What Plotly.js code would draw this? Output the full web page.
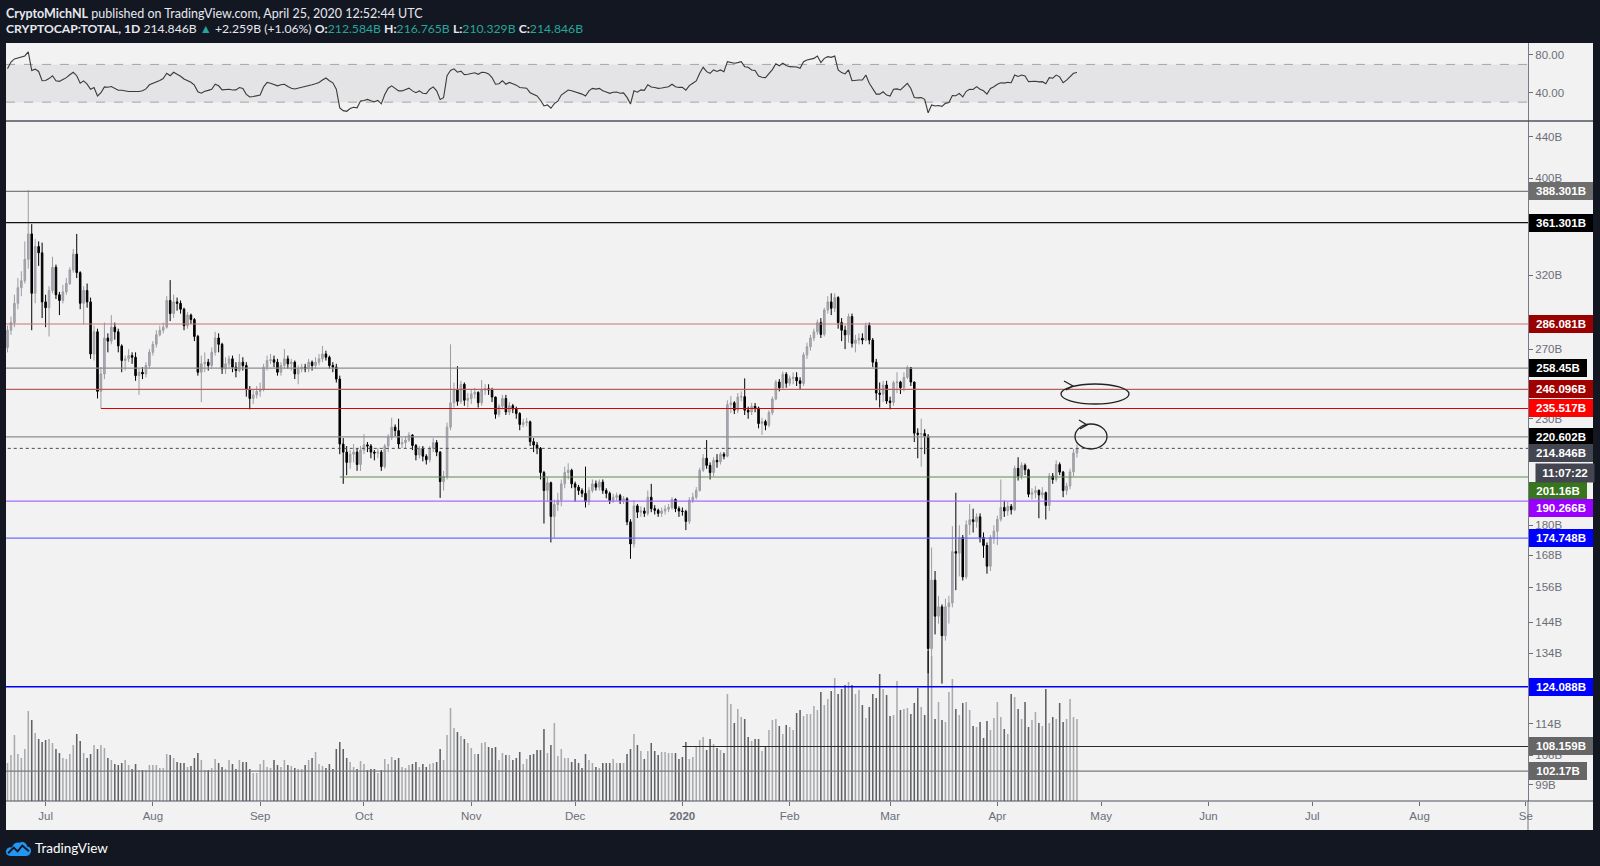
<!DOCTYPE html>
<html>
<head>
<meta charset="utf-8">
<script src="https://cdn.plot.ly/plotly-3.0.1.min.js"></script>
<style>
html,body{margin:0;padding:0;background:#131722;width:1600px;height:866px;overflow:hidden;}
#chart{position:absolute;left:0;top:0;width:1600px;height:866px;}
#hdr{position:absolute;left:6px;top:6px;color:#e6e8ee;font-family:'Lato','Liberation Sans',Arial,sans-serif;font-size:12.5px;line-height:15px;white-space:nowrap;z-index:5;}
#hdr .l2{font-size:12.2px;}
#hdr .t{color:#26a69a;}
#hdr b{font-weight:700;}
#logo{position:absolute;left:5px;top:838px;height:20px;z-index:5;display:flex;align-items:center;}
#logo span{color:#ffffff;font-family:'Lato','Liberation Sans',Arial,sans-serif;font-size:13.5px;margin-left:3px;}
</style>
</head>
<body>
<div id="chart"></div>
<div id="hdr">
<div><b>CryptoMichNL</b> published on TradingView.com, April 25, 2020 12:52:44 UTC</div>
<div class="l2"><b>CRYPTOCAP:TOTAL, 1D</b> 214.846B <span class="t">&#9650;</span> +2.259B (+1.06%) <b>O:</b><span class="t">212.584B</span> <b>H:</b><span class="t">216.765B</span> <b>L:</b><span class="t">210.329B</span> <b>C:</b><span class="t">214.846B</span></div>
</div>
<div id="logo">
<svg width="27" height="18" viewBox="0 0 28 19"><path d="M6 18 C2 18 0 15 1 12 C2 9 5 8 7 9 C8 5 12 3 15 4 C18 2 23 4 23 8 C26 8 28 11 27 14 C26 17 24 18 22 18 Z" fill="#2196f3"/><path d="M3 15 L9 9 L13 13 L18 7 L25 13" stroke="#131722" stroke-width="2" fill="none"/></svg>
<span>TradingView</span>
</div>
<script>
// ---------------- DATA (daily, 2019-06-20 .. 2020-04-24) ----------------
const firstDate = '2019-06-20';
const firstOpen = 271;

const closePrice = [
 282,287,300,311,316,332,352,307,342,337,301,
 297,309,326,306,302,308,314,324,336,322,300,309,301,267,281,245,255,277,275,284,281,272,263,264,266,265,254,256,255,260,268,
 273,279,282,284,302,293,301,300,296,285,292,289,278,256,261,262,260,268,277,273,258,261,264,259,257,262,260,246,241,243,245,
 246,259,263,263.5,262,256,260,264,261,262,255,258,259,258,262,260,262,264,267,265,260,259,252,217,213,208,212,213,207,214,
 216.6,216,213,212.5,213,206,216,220.4,225.6,223.8,217,217.7,219,221.5,216.3,211.6,214.9,211,209.3,214.9,217.7,213,199,201.4,225.6,238.6,245.7,239.4,249,240,241,
 243.5,244.4,238.6,245.7,246.5,245.7,241.8,232.4,236.7,241,233.6,237,235.2,232.8,227,228,228.4,218.2,216.5,214.9,203.2,195,198.5,183.7,188.8,190.7,198,203.2,204.3,198,
 196.5,195,193.7,190,195,198,196.5,198.8,195,193.7,190.5,192,192.7,190.5,191.3,181.4,172.4,188.2,185.5,186,185,192,187,186.3,185,186,186.8,187.5,191,187,186,
 185.8,181.6,190.7,192,195,204.3,210,206.6,203.2,209,208.3,212,211,237.6,238.6,234.6,241.8,242,234.6,233.6,236.7,235.7,227.5,228.5,226.6,233.3,240.7,250.3,247,254.8,249.6,
 252.4,253,251,249.5,266.4,271.5,277,281,287,279.3,295.4,301,296.6,304,287,282,279,291,273.6,275.7,276.8,275.7,285,275.7,262,244,243.3,248.6,239.6,
 238.8,249.9,250.3,247,253,258.8,250.3,222.5,221.8,222.3,220.9,135.5,158.6,146,149.2,139.6,149.2,150.5,169.4,168.8,175,159.8,180.2,182.3,181.5,183.5,175,171.8,163.8,175,177.5,
 182.5,187.5,186,188,186.5,205.2,201.6,206.6,204.5,193.3,194,195,193,194,188.4,201.6,200,207,203.4,195,197,203.5,212.584,214.846
];

const highPrice = [
 285,291,306,318,323,346,389.5,360,348,346,345,
 306,312,334,328,308,313,318,326,340,352,323,312,314,304,285,283,259,287,280,292,287,283,273,266,270,268,268,258,259,262,270,
 275,282,285,287,305,316.5,306,304,302,297,294,293,290,279,266,268,264,271,281,280,274,265,266,266,262,267,265,262,248,246,248,
 250,261,266,267,266,264,262,270,266,264,263,260,261,261,264,263,265,267,272,269,266,262,261,254,220,216,214,217,215,216,
 222,218,217,214,215,214,217,222,230.5,227,230,220,221,223,222,217,216,216,212,216,220,219,213.5,204,228,273,250,259.6,251,250,244,
 246,247,245,251.4,249,249,247,242,238,243,243,239,238,236.5,233.5,230,230.5,229,220,218,215.5,204,201,199,191,194,200,206,207.6,205,
 199,197.5,196,206,196.5,200,199.5,200,200,196,194.5,193.5,194,193.5,192.5,192,182.5,190.7,189,188,187.5,195,198,188.5,187,187.5,188.5,189,192,191.5,188,
 187.5,186.5,192,194,196.5,205.5,212,219,208,210.5,212,213,213,240,242.4,239.5,244,245,252.4,236.5,238.5,238.5,236.5,230.5,229.5,234.5,242,251.5,252,256.5,256,
 254,256,256,253,268,274,279,283,289,290,297,305,307,307,305,290,285,293,293,279,280,280,287,287,277,264,250,251,251,
 242,251,256,251,256,260,259,250.5,225,230,224.5,222,171,162,153,150,152,153,179.6,194,180,176,182,189,187,185,185,177,173,176,180,
 184,200,190.5,190,189,206.5,210.5,208,207.5,205,196,197,195.5,196.5,194.5,203,203,209,208,204,198.5,205,214.5,216.765
];

const lowPrice = [
 268,279,284,296,305,314,325,282,300,327,290,
 284,278,307,303,292,300,306,313,322,318,296,286,297,264,263,241,235.5,252,268,273,276,268,256,257,262,261,251,243,252,253,258,
 266,271,278,280,283,288,290,295,293,282,283,286,275,254,239,256,257,258,266,268,255,255,258,256,253,256,257,242,235,238,241,
 242,245,257,261,259,254,254,258,258,257,252,249,256,256,256,257,258,260,262,263,258,256,250,212,198,202,205,208,204,204,
 212,213,210,209,210,204,205,213,219,221,215,215,215,218,214,209,210,208.5,207,208,213,211,191.7,195,200,224,236,237,238,237,236,
 238,241,236,237,243,243,239,230,231,235,232,232,233,230,224,225.5,226,216,213,212,200,180.7,190,173,175,186,188,196,200,196,
 190,193,192,187.5,188.5,194,195,195,193.5,191.5,189,189.5,190.5,189,189,180,166.6,171,183,183.5,183.5,184,185.5,184.5,183.5,183.5,184.5,185.5,186.5,185.5,183.5,
 184,178,180.5,189.5,191,194.5,203.5,205,200,201.5,205.5,207,209.5,210.5,233,232.5,233,239.5,232,230,232,233.5,225,221.6,224,225.5,232,240,245,246,247,
 248,249,248,246,248,264,269,275,279,277,278,293,292,294,283,275,270,274,271,268,273,273,275,273,259,240,236,239,238,
 235,237,244,243.5,245,252,248,218,210,206,212,128,124.088,140,143.5,125,138,143.5,149,155,160,158.5,159,176,177,179,173,167,161,162,172.5,
 172,181.5,183.5,184,184.5,186,199.5,200,202,192,191,191.5,182.9,191.5,182.4,186,198,199,202,192,193,195.5,201.5,210.329
];

const volumeB = [
 38,46,66,47,43,52,90,81,68,62,59,
 61,62,58,52,48,43,42,47,56,67,60,48,43,47,56,52,56,53,43,41,37,36,38,41,36,32,37,31,31,31,36,
 36,36,33,33,47,46,43,39,38,38,34,35,43,48,41,31,31,33,42,38,34,32,41,37,32,41,39,39,32,28,28,
 37,41,34,33,41,36,34,41,36,35,33,32,32,36,41,43,49,37,35,33,37,32,52,59,52,43,39,34,32,40,
 37,31,32,32,28,31,42,37,44,41,43,34,33,36,37,39,34,37,34,37,38,39,52,41,66,93,73,69,65,62,58,
 53,47,47,58,59,54,53,54,41,48,46,46,41,43,49,37,42,46,47,51,51,72,48,56,78,45,52,43,43,39,
 42,38,33,47,41,38,34,33,38,38,38,42,38,38,38,47,52,67,56,50,42,50,58,50,46,49,49,48,48,48,42,
 44,59,42,44,54,61,64,51,62,57,53,51,48,107,97,78,92,84,82,64,60,62,62,50,55,71,81,82,75,67,76,
 74,71,88,91,85,87,87,95,91,109,96,102,110,123,107,112,116,119,116,107,111,96,83,94,107,103,127,112,106,
 85,86,120,91,92,93,87,98,113,94,86,150,145,82,99,81,79,109,122,92,86,98,99,91,75,74,79,63,80,71,83,
 99,84,72,67,107,104,92,82,99,74,81,89,78,75,112,78,84,82,98,79,82,102,84,82
];

const rsi14 = [
 65.5,72.5,75.8,77,77.6,79,83.3,63.5,65,62.5,52.7,
 53,55,58,52.7,52,54,56,59,61.7,58,50,52.5,49,43.7,45.5,36.5,40,46.2,45.8,46.5,44.8,42.6,42.6,41.8,41.2,41.2,41,41.2,42,44,48.4,
 49.7,50.9,53,55,60.6,58,61.7,59.5,57.5,54.5,53,51,48,41,39.5,41.5,42.5,43.7,49,47.3,43,43.3,43.7,42.8,43,45.5,44.5,38.3,35.4,36,36.5,
 37.5,46.2,50.9,50,49,47.3,48.5,49,46.5,44.8,44,44.8,45.5,46.2,47.5,48.4,49.5,50.9,53.4,55.6,52.7,50.5,43.7,23.9,21,20.3,23.2,24.6,24,31.1,
 31.8,32.9,31.5,30.5,31.8,28.2,38,44.8,47.3,44.5,41.9,41.9,43.5,44.8,41.9,40,41.9,39.5,39,43.7,46.2,42,32.9,34.7,58,63.5,65.3,61.7,62.8,59.2,59.5,
 60.6,61.2,59.5,61.7,61.5,59.9,56,49,49.5,52.7,49,50.9,49.5,48,45.5,45.2,44.8,40,38,36.5,32,26,27,23.5,28.5,31,37.5,40,42.8,42,
 41,39.7,38.5,36.5,42,44.6,43.8,44.6,42,40.8,39.3,40.5,40.8,39.5,39.8,35,28,42,40.5,43,42.5,48.5,46,45.5,44.6,45,45.5,46.3,49,46.3,45.6,
 45.6,42.7,47.5,50,52.5,60.6,66.9,62.3,60.6,64.1,62.5,64.1,62.3,72.9,72,71.2,71.9,72.9,67.6,66.9,64.1,63.5,57.7,56.3,56,60.3,64.5,70.6,68.5,71.2,68.8,
 67.6,67.6,67.2,65.8,72.9,74.6,75.5,76.4,78.9,71.9,76.4,78.2,77.5,78.9,64.1,61.3,59.9,64.1,52.7,53.4,53.4,53.4,58.7,50,44,38.5,38.5,41,37.5,
 36.5,43.6,44,42.9,46.4,49.9,44.5,35,34.5,34.8,33,18.7,27,25.9,26.5,25.5,28.7,29.5,37,36.8,39.3,35.5,41.5,43.6,43.4,46.4,43.6,42,38.5,44.5,46.4,
 49,50.6,50.2,51,50.6,58.7,57.2,58.7,57.7,51.7,51.9,52.1,51.5,51.7,49.5,56,55.3,58.7,56.8,50.6,53.4,56.5,60.6,61.5
];

// horizontal levels (drawn rays) and their start dates
const levelValues = [388.301,361.301,286.081,258.45,246.096,235.517,220.602,214.846,201.16,190.266,174.748,124.088,108.159,102.17];
const levelStarts = ['2019-06-01','2019-06-01','2019-06-01','2019-06-01','2019-06-01','2019-07-17','2019-06-01','2019-06-01','2019-09-24','2019-06-01','2019-06-01','2019-06-01','2020-01-01','2019-06-01'];

// axis tick labels
const priceTicks = [99,106,114,134,144,156,168,180,230,270,320,400,440];
const monthTickDates = ['2019-07-01','2019-08-01','2019-09-01','2019-10-01','2019-11-01','2019-12-01','2020-01-01','2020-02-01','2020-03-01','2020-04-01','2020-05-01','2020-06-01','2020-07-01','2020-08-01','2020-08-31T16:00:00'];
const monthTickText = ['Jul','Aug','Sep','Oct','Nov','Dec','<b>2020</b>','Feb','Mar','Apr','May','Jun','Jul','Aug','Se'];
const rsiTicks = [40,80];

// ---------------- BUILD ----------------
const n = closePrice.length;
const dates = [];
const d0 = new Date(firstDate + 'T00:00:00Z');
for (let i = 0; i < n; i++) {
  const d = new Date(d0.getTime() + i * 86400000);
  dates.push(d.toISOString().slice(0, 10));
}
const openPrice = closePrice.map((c, i) => i === 0 ? firstOpen : closePrice[i - 1]);

// pixel geometry of the frame
const L = 6, R = 1528, T = 43, B = 801, PR = 1593, PB = 830, SPLIT = 121;
const px2x = p => (p - L) / (R - L);
const px2y = p => (B - p) / (B - T);
const splitY = px2y(SPLIT);

// styles for the levels (same order as levelValues)
const levelStyle = [
  {c:'#7d7d7d', w:1.3, dash:'solid', bg:'#6e6e6e', shift:0,   bw:60},
  {c:'#111111', w:1.1, dash:'solid', bg:'#000000', shift:0,   bw:60},
  {c:'#c27676', w:1.1, dash:'solid', bg:'#990000', shift:0,   bw:60},
  {c:'#8e8e8e', w:1.3, dash:'solid', bg:'#000000', shift:0,   bw:54},
  {c:'#b86060', w:1.1, dash:'solid', bg:'#a00000', shift:0,   bw:60},
  {c:'#e00000', w:1.1, dash:'solid', bg:'#ff0000', shift:0,   bw:60},
  {c:'#8e8e8e', w:1.3, dash:'solid', bg:'#000000', shift:0,   bw:60},
  {c:'#4a4a4a', w:1,   dash:'dot',   bg:'#434651', shift:-5,  bw:60},
  {c:'#5e8c48', w:1.1, dash:'solid', bg:'#38761d', shift:-14, bw:54},
  {c:'#a56bff', w:1.1, dash:'solid', bg:'#9900ff', shift:-7,  bw:60},
  {c:'#6b6bff', w:1.1, dash:'solid', bg:'#0000ff', shift:0,   bw:60},
  {c:'#0000ee', w:1.6, dash:'solid', bg:'#0000ff', shift:0,   bw:60},
  {c:'#2a2a2a', w:1.1, dash:'solid', bg:'#666666', shift:0,   bw:60},
  {c:'#7a7a7a', w:1.3, dash:'solid', bg:'#666666', shift:0,   bw:54}
];

const traces = [];

// volume (base subplot, linear axis)
traces.push({
  type:'bar', x:dates, y:volumeB, xaxis:'x', yaxis:'y2',
  width: 0.45 * 86400000,
  marker:{color: closePrice.map((c,i) => c >= openPrice[i] ? '#a9aaae' : '#606165'), line:{width:0}},
  hoverinfo:'skip'
});

// RSI
traces.push({
  type:'scatter', mode:'lines', x:dates, y:rsi14, xaxis:'x', yaxis:'y',
  line:{color:'#3a3a3a', width:1.1}, hoverinfo:'skip'
});

// level rays
levelValues.forEach((v, i) => {
  const s = levelStyle[i];
  traces.push({
    type:'scatter', mode:'lines', x:[levelStarts[i], '2021-01-01'], y:[v, v],
    xaxis:'x', yaxis:'y3', line:{color:s.c, width:s.w, dash:s.dash}, hoverinfo:'skip'
  });
});

// candles
traces.push({
  type:'candlestick', x:dates, open:openPrice, high:highPrice, low:lowPrice, close:closePrice,
  xaxis:'x', yaxis:'y3', whiskerwidth:0,
  increasing:{line:{color:'#9c9da3', width:1}, fillcolor:'#abacb1'},
  decreasing:{line:{color:'#000000', width:1}, fillcolor:'#000000'},
  hoverinfo:'skip'
});

// annotations: price labels on the scale
const annotations = levelValues.map((v, i) => {
  const s = levelStyle[i];
  return {
    xref:'paper', x:1, xanchor:'left', xshift:1,
    yref:'y3', y:Math.log10(v), yanchor:'middle', yshift:s.shift,
    text:'<b>' + v + 'B</b>', showarrow:false,
    font:{family:'Liberation Sans, Arial, sans-serif', size:11.5, color:'#ffffff'},
    bgcolor:s.bg, borderpad:2, borderwidth:0, width:s.bw, height:14, align:'center'
  };
});
// countdown under the last price
annotations.push({
  xref:'paper', x:1, xanchor:'left', xshift:7,
  yref:'y3', y:Math.log10(closePrice[n-1]), yanchor:'middle', yshift:-25,
  text:'<b>11:07:22</b>', showarrow:false,
  font:{family:'Liberation Sans, Arial, sans-serif', size:11.5, color:'#ffffff'},
  bgcolor:'#434651', borderpad:2, width:54, height:14, align:'center'
});

const shapes = [
  // light chart panel
  {type:'rect', xref:'paper', yref:'paper', x0:px2x(L), x1:px2x(PR), y0:px2y(PB), y1:px2y(T), fillcolor:'#f2f2f2', line:{width:0}, layer:'below'},
  // RSI band
  {type:'rect', xref:'paper', yref:'y', x0:0, x1:1, y0:30, y1:70, fillcolor:'#e4e4e6', line:{width:0}, layer:'below'},
  {type:'line', xref:'paper', yref:'y', x0:0, x1:1, y0:70, y1:70, line:{color:'#a2a4ab', width:1, dash:'dash'}, layer:'below'},
  {type:'line', xref:'paper', yref:'y', x0:0, x1:1, y0:30, y1:30, line:{color:'#a2a4ab', width:1, dash:'dash'}, layer:'below'},
  // pane separator
  {type:'line', xref:'paper', yref:'paper', x0:0, x1:px2x(PR), y0:splitY, y1:splitY, line:{color:'#50535e', width:1.6}},
  // scale line down to bottom of panel, time axis line under scale
  {type:'line', xref:'paper', yref:'paper', x0:1, x1:1, y0:px2y(PB), y1:0, line:{color:'#787b86', width:1}},
  {type:'line', xref:'paper', yref:'paper', x0:0, x1:px2x(PR), y0:0, y1:0, line:{color:'#50535e', width:1.2}},
  // hand drawings
  {type:'circle', xref:'paper', yref:'paper', x0:px2x(1061), x1:px2x(1129), y0:px2y(404), y1:px2y(384), line:{color:'#222222', width:1.3}},
  {type:'path', xref:'paper', yref:'paper', path:'M' + px2x(1064) + ',' + px2y(381) + ' L' + px2x(1073) + ',' + px2y(386) + ' L' + px2x(1066) + ',' + px2y(390), line:{color:'#222222', width:1.3}},
  {type:'circle', xref:'paper', yref:'paper', x0:px2x(1075), x1:px2x(1107), y0:px2y(449), y1:px2y(424), line:{color:'#222222', width:1.3}},
  {type:'path', xref:'paper', yref:'paper', path:'M' + px2x(1079) + ',' + px2y(420) + ' L' + px2x(1087) + ',' + px2y(425) + ' L' + px2x(1080) + ',' + px2y(429), line:{color:'#222222', width:1.3}}
];

const tickFont = {family:'Liberation Sans, Arial, sans-serif', size:11.5, color:'#6b6e78'};

const layout = {
  width:1600, height:866,
  margin:{l:L, r:1600 - R, t:T, b:866 - B, pad:0},
  paper_bgcolor:'#131722', plot_bgcolor:'rgba(0,0,0,0)',
  showlegend:false, hovermode:false, dragmode:false,
  boxgap:0.55, boxgroupgap:0,
  font:{family:'Liberation Sans, Arial, sans-serif', size:11, color:'#6b6e78'},
  xaxis:{
    type:'date', anchor:'y2', domain:[0,1],
    range:['2019-06-19 13:34', '2020-09-01 07:40'],
    tickmode:'array', tickvals:monthTickDates, ticktext:monthTickText,
    ticks:'outside', ticklen:4, tickcolor:'#6b6e78', tickfont:tickFont,
    showgrid:false, zeroline:false, showline:false,
    rangeslider:{visible:false}, fixedrange:true
  },
  yaxis:{
    domain:[splitY, 1], range:[10, 92.7], side:'right', anchor:'x',
    tickmode:'array', tickvals:rsiTicks, ticktext:rsiTicks.map(v => v.toFixed(2)),
    ticks:'outside', ticklen:4, tickcolor:'#6b6e78', tickfont:tickFont,
    showgrid:false, zeroline:false, showline:true, linecolor:'#787b86', linewidth:1, fixedrange:true
  },
  yaxis2:{domain:[0, splitY], range:[0, B - SPLIT], visible:false, fixedrange:true, anchor:'x'},
  yaxis3:{
    overlaying:'y2', type:'log', side:'right', anchor:'x',
    range:[Math.log10(95.4), Math.log10(456.5)],
    tickmode:'array', tickvals:priceTicks, ticktext:priceTicks.map(v => v + 'B'),
    ticks:'outside', ticklen:4, tickcolor:'#6b6e78', tickfont:tickFont,
    showgrid:false, zeroline:false, showline:true, linecolor:'#787b86', linewidth:1, fixedrange:true
  },
  shapes:shapes,
  annotations:annotations
};

Plotly.newPlot('chart', traces, layout, {staticPlot:true, displayModeBar:false});
</script>
</body>
</html>
